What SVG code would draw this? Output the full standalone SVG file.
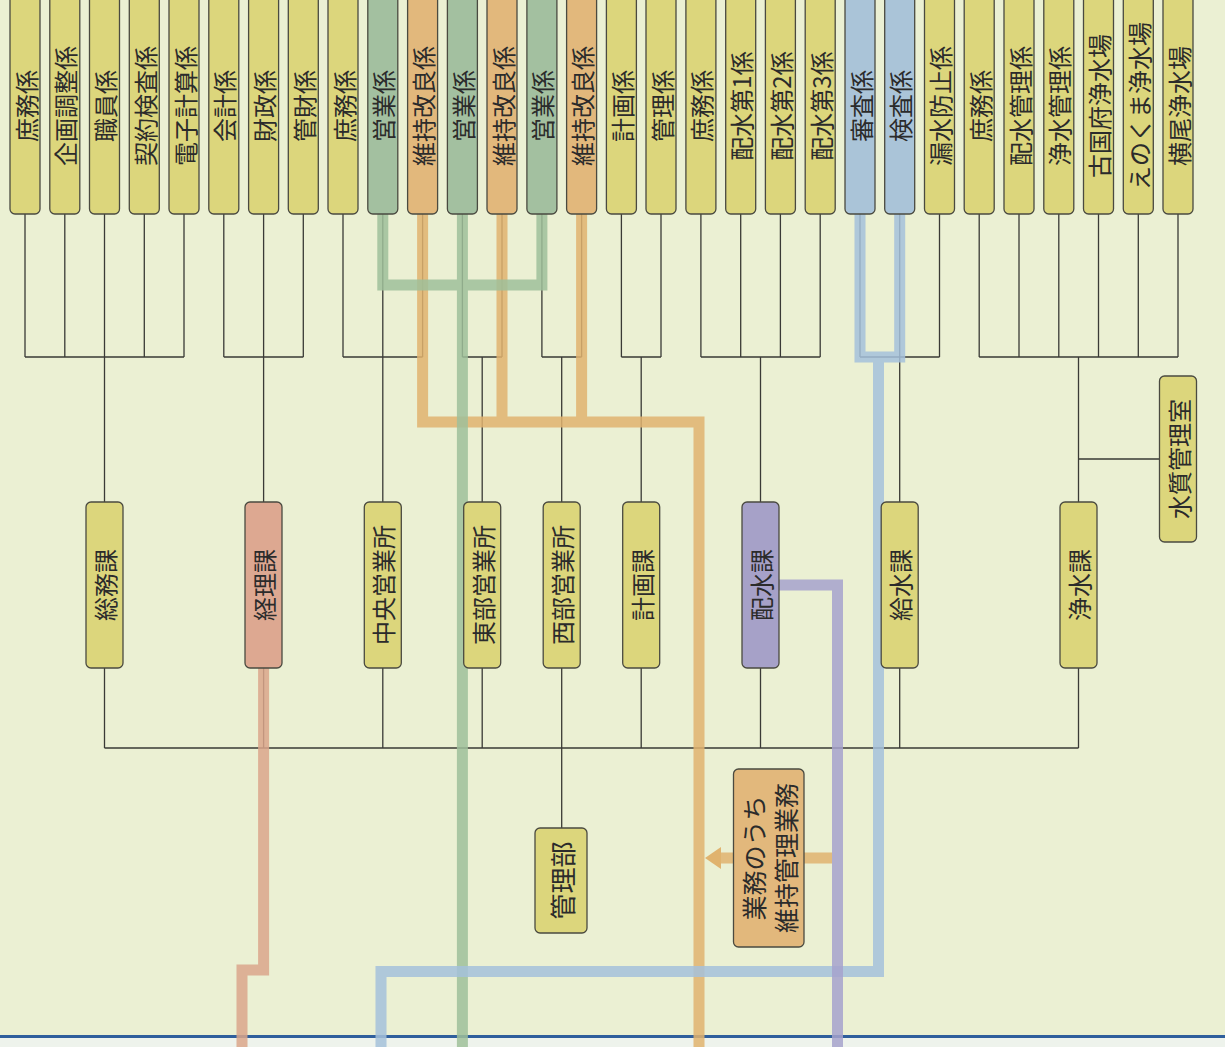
<svg xmlns="http://www.w3.org/2000/svg" width="1225" height="1047" viewBox="0 0 1225 1047">
<defs>
<style>
.bx{stroke:#4a4a40;stroke-width:1.3}
.y{fill:#dcd67c}
.g{fill:#a3c0a0}
.o{fill:#e2b87c}
.b{fill:#aac4d8}
.p{fill:#dda891}
.v{fill:#a6a1c8}
.t{font-family:"Noto Sans CJK JP","Noto Sans CJK SC",sans-serif;font-size:24px;fill:#2b2b2b;text-anchor:middle;dominant-baseline:central}
.ln{stroke:#3a3a36;stroke-width:1.3;fill:none}
.th{fill:none;stroke-width:11;stroke-linejoin:miter;stroke-linecap:butt;opacity:0.85}
</style>
</defs>
<rect x="0" y="0" width="1225" height="1047" fill="#ebf0d3"/>
<rect x="0" y="1036" width="1225" height="11" fill="#eef3ec"/>
<line x1="0" y1="1036.5" x2="1225" y2="1036.5" stroke="#2f5f9c" stroke-width="3"/>

<g id="connectors">
<g class="ln">
<path d="M25 214V357M64.8 214V357M104.5 214V357M144.3 214V357M184 214V357M25 357H184M104.5 357V502"/>
<path d="M223.8 214V357M263.6 214V357M303.3 214V357M223.8 357H303.3M263.6 357V502"/>
<path d="M343 214V357M382.8 214V357M422.6 214V357M343 357H422.6M382.8 357V502"/>
<path d="M462.4 214V357M502 214V357M462.4 357H502M482.2 357V502"/>
<path d="M541.9 214V357M581.6 214V357M541.9 357H581.6M561.7 357V502"/>
<path d="M621.4 214V357M661 214V357M621.4 357H661M641.2 357V502"/>
<path d="M700.9 214V357M740.7 214V357M780.4 214V357M820.2 214V357M700.9 357H820.2M760.5 357V502"/>
<path d="M860 214V357M899.7 214V357M939.5 214V357M860 357H939.5M899.7 357V502"/>
<path d="M979.2 214V357M1019 214V357M1058.8 214V357M1098.5 214V357M1138.3 214V357M1178 214V357M979.2 357H1178M1078.5 357V502M1078.5 459H1159"/>
<path d="M104.5 668V748M263.6 668V748M382.8 668V748M482.2 668V748M561.7 668V748M641.2 668V748M760.5 668V748M899.7 668V748M1078.5 668V748M104.5 748H1078.5M561.7 748V828"/>
</g>
<path class="th" stroke="#e0b36e" d="M422.6 214V422H699V1047M502 214V422M581.6 214V422"/>
<path class="th" stroke="#9fc09a" d="M382.8 214V285H541.9V214M462.4 214V1047"/>
<path class="th" stroke="#a4c1da" d="M860 214V357H899.7V214M878.5 357V971.5H381V1047"/>
<path class="th" stroke="#a6a2cc" d="M779 585H837.5V1047"/>
<path class="th" stroke="#dba68b" d="M263.6 668V970H242V1047"/>
<path class="th" stroke="#e0b36e" d="M832 858H718"/>
<polygon points="705,858 721,847 721,869" fill="#e0b36e"/>
</g>

<g id="n0"><rect class="bx y" x="10" y="-10" width="30" height="224" rx="5"/><text class="t" transform="translate(25,106) rotate(-90)">庶務係</text></g>
<g id="n1"><rect class="bx y" x="49.8" y="-10" width="30" height="224" rx="5"/><text class="t" transform="translate(64.8,106) rotate(-90)">企画調整係</text></g>
<g id="n2"><rect class="bx y" x="89.5" y="-10" width="30" height="224" rx="5"/><text class="t" transform="translate(104.5,106) rotate(-90)">職員係</text></g>
<g id="n3"><rect class="bx y" x="129.3" y="-10" width="30" height="224" rx="5"/><text class="t" transform="translate(144.3,106) rotate(-90)">契約検査係</text></g>
<g id="n4"><rect class="bx y" x="169" y="-10" width="30" height="224" rx="5"/><text class="t" transform="translate(184,106) rotate(-90)">電子計算係</text></g>
<g id="n5"><rect class="bx y" x="208.8" y="-10" width="30" height="224" rx="5"/><text class="t" transform="translate(223.8,106) rotate(-90)">会計係</text></g>
<g id="n6"><rect class="bx y" x="248.6" y="-10" width="30" height="224" rx="5"/><text class="t" transform="translate(263.6,106) rotate(-90)">財政係</text></g>
<g id="n7"><rect class="bx y" x="288.3" y="-10" width="30" height="224" rx="5"/><text class="t" transform="translate(303.3,106) rotate(-90)">管財係</text></g>
<g id="n8"><rect class="bx y" x="328" y="-10" width="30" height="224" rx="5"/><text class="t" transform="translate(343,106) rotate(-90)">庶務係</text></g>
<g id="n9"><rect class="bx g" x="367.8" y="-10" width="30" height="224" rx="5"/><text class="t" transform="translate(382.8,106) rotate(-90)">営業係</text></g>
<g id="n10"><rect class="bx o" x="407.6" y="-10" width="30" height="224" rx="5"/><text class="t" transform="translate(422.6,106) rotate(-90)">維持改良係</text></g>
<g id="n11"><rect class="bx g" x="447.4" y="-10" width="30" height="224" rx="5"/><text class="t" transform="translate(462.4,106) rotate(-90)">営業係</text></g>
<g id="n12"><rect class="bx o" x="487" y="-10" width="30" height="224" rx="5"/><text class="t" transform="translate(502,106) rotate(-90)">維持改良係</text></g>
<g id="n13"><rect class="bx g" x="526.9" y="-10" width="30" height="224" rx="5"/><text class="t" transform="translate(541.9,106) rotate(-90)">営業係</text></g>
<g id="n14"><rect class="bx o" x="566.6" y="-10" width="30" height="224" rx="5"/><text class="t" transform="translate(581.6,106) rotate(-90)">維持改良係</text></g>
<g id="n15"><rect class="bx y" x="606.4" y="-10" width="30" height="224" rx="5"/><text class="t" transform="translate(621.4,106) rotate(-90)">計画係</text></g>
<g id="n16"><rect class="bx y" x="646" y="-10" width="30" height="224" rx="5"/><text class="t" transform="translate(661,106) rotate(-90)">管理係</text></g>
<g id="n17"><rect class="bx y" x="685.9" y="-10" width="30" height="224" rx="5"/><text class="t" transform="translate(700.9,106) rotate(-90)">庶務係</text></g>
<g id="n18"><rect class="bx y" x="725.7" y="-10" width="30" height="224" rx="5"/><text class="t" transform="translate(740.7,106) rotate(-90)">配水第1係</text></g>
<g id="n19"><rect class="bx y" x="765.4" y="-10" width="30" height="224" rx="5"/><text class="t" transform="translate(780.4,106) rotate(-90)">配水第2係</text></g>
<g id="n20"><rect class="bx y" x="805.2" y="-10" width="30" height="224" rx="5"/><text class="t" transform="translate(820.2,106) rotate(-90)">配水第3係</text></g>
<g id="n21"><rect class="bx b" x="845" y="-10" width="30" height="224" rx="5"/><text class="t" transform="translate(860,106) rotate(-90)">審査係</text></g>
<g id="n22"><rect class="bx b" x="884.7" y="-10" width="30" height="224" rx="5"/><text class="t" transform="translate(899.7,106) rotate(-90)">検査係</text></g>
<g id="n23"><rect class="bx y" x="924.5" y="-10" width="30" height="224" rx="5"/><text class="t" transform="translate(939.5,106) rotate(-90)">漏水防止係</text></g>
<g id="n24"><rect class="bx y" x="964.2" y="-10" width="30" height="224" rx="5"/><text class="t" transform="translate(979.2,106) rotate(-90)">庶務係</text></g>
<g id="n25"><rect class="bx y" x="1004" y="-10" width="30" height="224" rx="5"/><text class="t" transform="translate(1019,106) rotate(-90)">配水管理係</text></g>
<g id="n26"><rect class="bx y" x="1043.8" y="-10" width="30" height="224" rx="5"/><text class="t" transform="translate(1058.8,106) rotate(-90)">浄水管理係</text></g>
<g id="n27"><rect class="bx y" x="1083.5" y="-10" width="30" height="224" rx="5"/><text class="t" transform="translate(1098.5,106) rotate(-90)">古国府浄水場</text></g>
<g id="n28"><rect class="bx y" x="1123.3" y="-10" width="30" height="224" rx="5"/><text class="t" transform="translate(1138.3,106) rotate(-90)">えのくま浄水場</text></g>
<g id="n29"><rect class="bx y" x="1163" y="-10" width="30" height="224" rx="5"/><text class="t" transform="translate(1178,106) rotate(-90)">横尾浄水場</text></g>

<g id="s0"><rect class="bx y" x="86" y="502" width="37" height="166" rx="5"/><text class="t" transform="translate(104.5,585) rotate(-90)">総務課</text></g>
<g id="s1"><rect class="bx p" x="245" y="502" width="37" height="166" rx="5"/><text class="t" transform="translate(263.6,585) rotate(-90)">経理課</text></g>
<g id="s2"><rect class="bx y" x="364.3" y="502" width="37" height="166" rx="5"/><text class="t" transform="translate(382.8,585) rotate(-90)">中央営業所</text></g>
<g id="s3"><rect class="bx y" x="463.7" y="502" width="37" height="166" rx="5"/><text class="t" transform="translate(482.2,585) rotate(-90)">東部営業所</text></g>
<g id="s4"><rect class="bx y" x="543.2" y="502" width="37" height="166" rx="5"/><text class="t" transform="translate(561.7,585) rotate(-90)">西部営業所</text></g>
<g id="s5"><rect class="bx y" x="622.7" y="502" width="37" height="166" rx="5"/><text class="t" transform="translate(641.2,585) rotate(-90)">計画課</text></g>
<g id="s6"><rect class="bx v" x="742" y="502" width="37" height="166" rx="5"/><text class="t" transform="translate(760.5,585) rotate(-90)">配水課</text></g>
<g id="s7"><rect class="bx y" x="881.2" y="502" width="37" height="166" rx="5"/><text class="t" transform="translate(899.7,585) rotate(-90)">給水課</text></g>
<g id="s8"><rect class="bx y" x="1060" y="502" width="37" height="166" rx="5"/><text class="t" transform="translate(1078.5,585) rotate(-90)">浄水課</text></g>
<g id="s9"><rect class="bx y" x="1159.5" y="376" width="37" height="166" rx="5"/><text class="t" transform="translate(1178,459) rotate(-90)">水質管理室</text></g>
<g id="s10"><rect class="bx y" x="535" y="828" width="52" height="105" rx="5"/><text class="t" style="font-size:26px" transform="translate(561,880.5) rotate(-90)">管理部</text></g>
<g id="s11"><rect class="bx o" x="733.5" y="769" width="70.5" height="178" rx="5"/><text class="t" style="font-size:25px" transform="translate(768.7,858) rotate(-90)"><tspan x="0" y="-16">業務のうち</tspan><tspan x="0" y="16">維持管理業務</tspan></text></g>
</svg>
